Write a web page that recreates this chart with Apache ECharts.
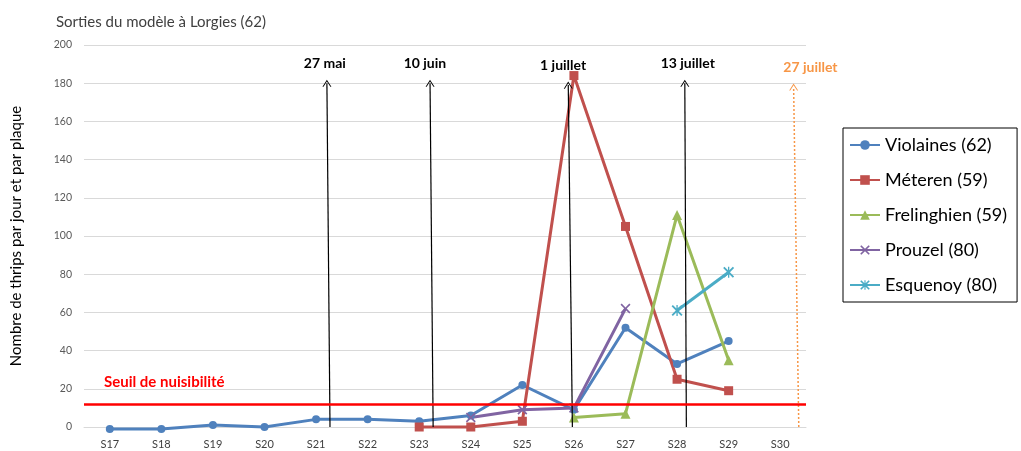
<!DOCTYPE html>
<html>
<head>
<meta charset="utf-8">
<script src="https://cdn.jsdelivr.net/npm/echarts@6/dist/echarts.min.js"></script>
<style>html,body{margin:0;padding:0;background:#fff}#c{width:1021px;height:451px}</style>
</head>
<body>
<div id="c"></div>
<script>
var categories = ['S17','S18','S19','S20','S21','S22','S23','S24','S25','S26','S27','S28','S29','S30'];
var violaines   = [-1, -1, 1, 0, 4, 4, 3, 6, 22, 9, 52, 33, 45, null];
var meteren     = [null, null, null, null, null, null, 0, 0, 3, 184, 105, 25, 19, null];
var frelinghien = [null, null, null, null, null, null, null, null, null, 5, 7, 111, 35, null];
var prouzel     = [null, null, null, null, null, null, null, 5, 9, 10, 62, null, null, null];
var esquenoy    = [null, null, null, null, null, null, null, null, null, null, null, 61, 81, null];
var seriesNames = ['Violaines (62)', 'Méteren (59)', 'Frelinghien (59)', 'Prouzel (80)', 'Esquenoy (80)'];
var threshold = 12;
var thresholdLabel = 'Seuil de nuisibilité';
var arrowLabels = ['27 mai', '10 juin', '1 juillet', '13 juillet', '27 juillet'];
var arrowBottomX = [4.27, 6.27, 8.97, 11.18, 13.36];
var arrowTopX = [4.21, 6.21, 8.89, 11.15, 13.26];
var arrowTopY = [180, 180, 179, 180, 178];
var yTicks = {min: 0, max: 200, interval: 20};

var colors = ['#4F81BD', '#C0504D', '#9BBB59', '#8064A2', '#4BACC6'];
var xPath = 'path://M0,1.2 L1.2,0 L5,3.8 L8.8,0 L10,1.2 L6.2,5 L10,8.8 L8.8,10 L5,6.2 L1.2,10 L0,8.8 L3.8,5 Z';
var starPath = 'path://M0,1.2 L1.2,0 L4.4,3.2 L4.4,0 L5.6,0 L5.6,3.2 L8.8,0 L10,1.2 L6.2,5 L10,8.8 L8.8,10 L5.6,6.8 L5.6,10 L4.4,10 L4.4,6.8 L1.2,10 L0,8.8 L3.8,5 Z';
var symbols = ['circle', 'rect', 'triangle', xPath, starPath];
var sizes = [8, 9, 10, 10, 11];
var datas = [violaines, meteren, frelinghien, prouzel, esquenoy];
var chevron = 'path://M0,10 L5,0 L10,10 L8.8,10 L5,2.4 L1.2,10 Z';
var labelShift = [-2, -5, -5, 3, 17];

var series = datas.map(function (d, i) {
  return {
    name: seriesNames[i], type: 'line', data: d, symbol: symbols[i], symbolSize: sizes[i],
    connectNulls: false, clip: false,
    itemStyle: {color: colors[i]}, lineStyle: {color: colors[i], width: 3}, z: 3
  };
});

var arrowData = arrowLabels.map(function (l, i) {
  var last = i === arrowLabels.length - 1;
  var col = last ? '#F79646' : '#000000';
  return [
    {coord: [arrowBottomX[i], 0], lineStyle: {color: col, width: last ? 1.5 : 1.2, type: last ? [2, 2] : 'solid'},
     label: {color: col, offset: [labelShift[i], 0]}},
    {coord: [arrowTopX[i], arrowTopY[i]], name: l}
  ];
});

series.push({
  type: 'line', xAxisIndex: 1, data: [], silent: true, z: 4,
  markLine: {
    silent: true, animation: false,
    symbol: ['none', chevron], symbolSize: [9, 7],
    label: {show: true, position: 'end', formatter: '{b}', fontWeight: 'bold', fontSize: 14, distance: 13, fontFamily: 'Lato'},
    data: arrowData
  }
});
series.push({
  type: 'line', data: [], silent: true, z: 2,
  markLine: {
    silent: true, animation: false, symbol: ['none', 'none'],
    lineStyle: {color: '#FF0000', width: 2.5, type: 'solid'},
    label: {show: true, position: 'insideStartTop', formatter: thresholdLabel, color: '#FF0000', fontWeight: 'bold', fontSize: 15, distance: [20, 14], fontFamily: 'Lato'},
    data: [{yAxis: threshold}]
  }
});

var chart = echarts.init(document.getElementById('c'));
chart.setOption({
  animation: false,
  textStyle: {fontFamily: 'Lato'},
  title: {text: 'Sorties du modèle à Lorgies (62)', left: 51, top: 10,
    textStyle: {fontSize: 15, fontWeight: 'normal', color: '#404040', fontFamily: 'Lato'}},
  grid: {left: 84, right: 215, top: 45, bottom: 24},
  legend: {
    data: seriesNames, orient: 'vertical', left: 843, top: 128,
    borderColor: '#000', borderWidth: 1, padding: [7, 10, 7, 6], itemGap: 15,
    itemWidth: 30, itemHeight: 12,
    textStyle: {fontSize: 18, color: '#000', fontFamily: 'Lato', lineHeight: 20}
  },
  xAxis: [{
    type: 'category', data: categories, boundaryGap: true,
    axisLine: {show: true, lineStyle: {color: '#d9d9d9'}}, axisTick: {show: false},
    axisLabel: {fontSize: 11, color: '#404040', margin: 12}
  }, {
    type: 'value', min: -0.5, max: 13.5, show: false
  }],
  yAxis: {
    type: 'value', min: yTicks.min, max: yTicks.max, interval: yTicks.interval,
    name: 'Nombre de thrips par jour et par plaque', nameLocation: 'middle', nameGap: 60,
    nameTextStyle: {fontSize: 15, color: '#000', fontFamily: 'Lato'},
    axisLine: {show: false}, axisTick: {show: false},
    axisLabel: {fontSize: 10.5, color: '#595959', margin: 12},
    splitLine: {lineStyle: {color: '#d9d9d9', width: 1}}
  },
  series: series
});
</script>
</body>
</html>
